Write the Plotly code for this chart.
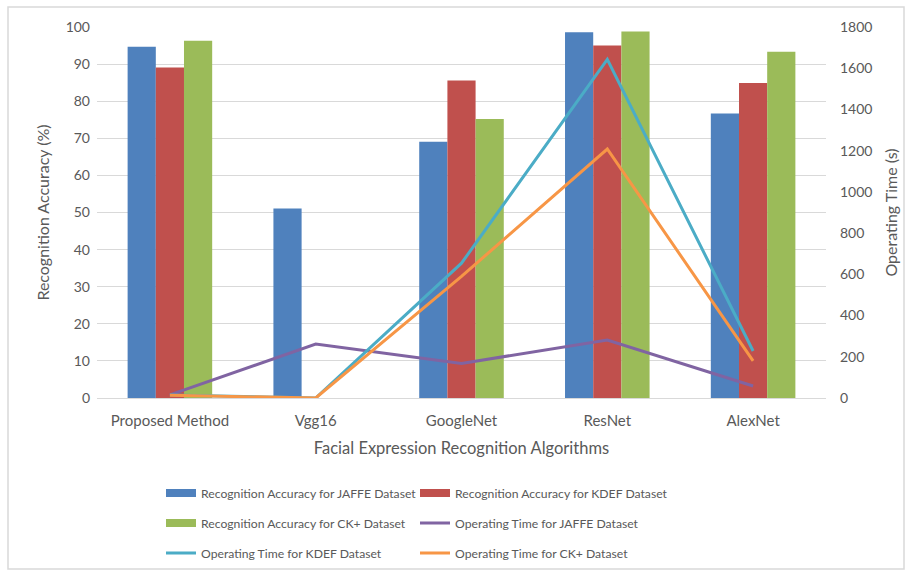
import plotly.graph_objects as go

# Algorithms compared
algorithms = ["Proposed Method", "Vgg16", "GoogleNet", "ResNet", "AlexNet"]

# Recognition accuracy (%) per dataset
acc_jaffe = [94.7, 51.1, 69.1, 98.6, 76.7]
acc_kdef = [89.1, None, 85.6, 95.0, 84.9]
acc_ck = [96.3, None, 75.2, 98.8, 93.3]

# Operating time (s) per dataset
time_jaffe = [15, 262, 168, 281, 58]
time_kdef = [15, 0, 654, 1643, 228]
time_ck = [13, 0, 590, 1208, 180]

FONT = "Lato"
GREY = "#595959"
W, H = 909, 574
L, R, T, B = 97, 83, 27, 176

fig = go.Figure()

bars = [
    ("Recognition Accuracy for JAFFE Dataset", acc_jaffe, "#4F81BD", "legend"),
    ("Recognition Accuracy for KDEF Dataset", acc_kdef, "#C0504D", "legend2"),
    ("Recognition Accuracy for CK+ Dataset", acc_ck, "#9BBB59", "legend3"),
]
for name, vals, col, lg in bars:
    fig.add_trace(go.Bar(x=algorithms, y=vals, name=name, marker_color=col,
                         marker_line_width=0, showlegend=False))
    # wide swatch for the legend entry
    fig.add_trace(go.Scatter(x=[algorithms[0]], y=[None], name=name, mode="lines",
                             line=dict(color=col, width=8), legend=lg,
                             hoverinfo="skip"))

lines = [
    ("Operating Time for JAFFE Dataset", time_jaffe, "#8064A2", "legend4"),
    ("Operating Time for KDEF Dataset", time_kdef, "#4BACC6", "legend5"),
    ("Operating Time for CK+ Dataset", time_ck, "#F79646", "legend6"),
]
for name, vals, col, lg in lines:
    fig.add_trace(go.Scatter(x=algorithms, y=vals, name=name, mode="lines",
                             line=dict(color=col, width=3), yaxis="y2", legend=lg))

pw = W - L - R
ph = H - T - B


def px_x(px):
    return (px - L) / pw


def px_y(py):
    return (H - B - py) / ph


def cx(px):
    return px / W


def cy(py):
    return 1 - py / H


legend_common = dict(orientation="h",
                     font=dict(family=FONT, size=12.2, color=GREY),
                     bgcolor="rgba(0,0,0,0)", xanchor="left", yanchor="middle",
                     xref="container", yref="container", itemwidth=30)

# legend slots: 2 columns x 3 rows
col_x = [161, 415]
row_y = [493, 523, 553]
slots = {
    "legend": (0, 0), "legend2": (1, 0),
    "legend3": (0, 1), "legend4": (1, 1),
    "legend5": (0, 2), "legend6": (1, 2),
}
legends = {k: dict(legend_common, x=cx(col_x[c]), y=cy(row_y[r]))
           for k, (c, r) in slots.items()}

fig.update_layout(
    width=W, height=H,
    margin=dict(l=L, r=R, t=T, b=B, autoexpand=False),
    paper_bgcolor="white", plot_bgcolor="white",
    barmode="group", bargap=0.42, bargroupgap=0,
    font=dict(family=FONT, size=14, color=GREY),
    xaxis=dict(
        type="category", categoryorder="array", categoryarray=algorithms,
        showgrid=False, showline=False, ticks="", ticklabelstandoff=12,
        tickangle=0, automargin=False,
        tickfont=dict(family=FONT, size=15, color=GREY),
        title=dict(text="Facial Expression Recognition Algorithms",
                   font=dict(family=FONT, size=16.5, color=GREY), standoff=14),
    ),
    yaxis=dict(
        range=[0, 100], dtick=10, showgrid=True, gridcolor="#D9D9D9", gridwidth=1,
        zeroline=True, zerolinecolor="#D9D9D9", zerolinewidth=1, showline=False,
        ticks="", ticklabelstandoff=6, tickfont=dict(family=FONT, size=14, color=GREY),
        title=dict(text="Recognition Accuracy (%)",
                   font=dict(family=FONT, size=16, color=GREY), standoff=12),
    ),
    yaxis2=dict(
        range=[0, 1800], dtick=200, overlaying="y", side="right", showgrid=False,
        zeroline=False, showline=False, ticks="", ticklabelstandoff=13,
        tickfont=dict(family=FONT, size=14, color=GREY),
        title=dict(text="Operating Time (s)",
                   font=dict(family=FONT, size=16, color=GREY), standoff=14),
    ),
    shapes=[dict(type="rect", xref="paper", yref="paper",
                 x0=px_x(8), x1=px_x(904), y0=px_y(569), y1=px_y(7),
                 line=dict(color="#D9D9D9", width=1.5), fillcolor="rgba(0,0,0,0)",
                 layer="below")],
    **legends,
)

fig.write_html("out.html")
